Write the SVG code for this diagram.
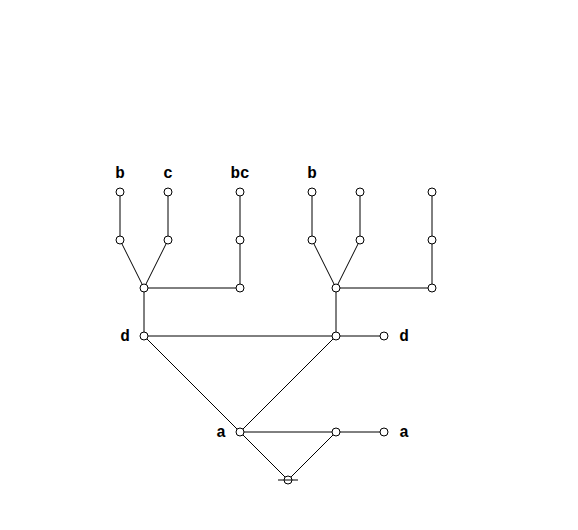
<svg xmlns="http://www.w3.org/2000/svg" width="578" height="530" viewBox="0 0 578 530">
<style>
.e{stroke:#000;stroke-width:1;fill:none}
.n{fill:#fff;stroke:#000;stroke-width:1}
text{font-family:'Liberation Mono','DejaVu Sans Mono',monospace;font-weight:bold;font-size:16px;fill:#000}
</style>
<rect width="578" height="530" fill="#fff"/>
<g id="connectors" class="e">
<line x1="120" y1="192" x2="120" y2="240"/>
<line x1="168" y1="192" x2="168" y2="240"/>
<line x1="240" y1="192" x2="240" y2="288"/>
<line x1="120" y1="240" x2="144" y2="288"/>
<line x1="168" y1="240" x2="144" y2="288"/>
<line x1="144" y1="288" x2="240" y2="288"/>
<line x1="144" y1="288" x2="144" y2="336"/>
<line x1="312" y1="192" x2="312" y2="240"/>
<line x1="360" y1="192" x2="360" y2="240"/>
<line x1="432" y1="192" x2="432" y2="288"/>
<line x1="312" y1="240" x2="336" y2="288"/>
<line x1="360" y1="240" x2="336" y2="288"/>
<line x1="336" y1="288" x2="432" y2="288"/>
<line x1="336" y1="288" x2="336" y2="336"/>
<line x1="144" y1="336" x2="384" y2="336"/>
<line x1="144" y1="336" x2="240" y2="432"/>
<line x1="336" y1="336" x2="240" y2="432"/>
<line x1="240" y1="432" x2="384" y2="432"/>
<line x1="240" y1="432" x2="288" y2="480"/>
<line x1="336" y1="432" x2="288" y2="480"/>
</g>
<g id="n1"><circle class="n" cx="120" cy="192" r="4"/><text x="120" y="178" text-anchor="middle">b</text></g>
<g id="n2"><circle class="n" cx="168" cy="192" r="4"/><text x="168" y="178" text-anchor="middle">c</text></g>
<g id="n3"><circle class="n" cx="240" cy="192" r="4"/><text x="240" y="178" text-anchor="middle">bc</text></g>
<g id="n4"><circle class="n" cx="312" cy="192" r="4"/><text x="312" y="178" text-anchor="middle">b</text></g>
<g id="n5"><circle class="n" cx="360" cy="192" r="4"/></g>
<g id="n6"><circle class="n" cx="432" cy="192" r="4"/></g>
<g id="n7"><circle class="n" cx="120" cy="240" r="4"/></g>
<g id="n8"><circle class="n" cx="168" cy="240" r="4"/></g>
<g id="n9"><circle class="n" cx="240" cy="240" r="4"/></g>
<g id="n10"><circle class="n" cx="312" cy="240" r="4"/></g>
<g id="n11"><circle class="n" cx="360" cy="240" r="4"/></g>
<g id="n12"><circle class="n" cx="432" cy="240" r="4"/></g>
<g id="n13"><circle class="n" cx="144" cy="288" r="4"/></g>
<g id="n14"><circle class="n" cx="240" cy="288" r="4"/></g>
<g id="n15"><circle class="n" cx="336" cy="288" r="4"/></g>
<g id="n16"><circle class="n" cx="432" cy="288" r="4"/></g>
<g id="n17"><circle class="n" cx="144" cy="336" r="4"/><text x="125" y="341" text-anchor="middle">d</text></g>
<g id="n18"><circle class="n" cx="336" cy="336" r="4"/></g>
<g id="n19"><circle class="n" cx="384" cy="336" r="4"/><text x="404" y="341" text-anchor="middle">d</text></g>
<g id="n20"><circle class="n" cx="240" cy="432" r="4"/><text x="221" y="437" text-anchor="middle">a</text></g>
<g id="n21"><circle class="n" cx="336" cy="432" r="4"/></g>
<g id="n22"><circle class="n" cx="384" cy="432" r="4"/><text x="404" y="437" text-anchor="middle">a</text></g>
<g id="n23"><circle class="n" cx="288" cy="480" r="4"/><line class="e" x1="278" y1="480" x2="298" y2="480"/></g>
</svg>
